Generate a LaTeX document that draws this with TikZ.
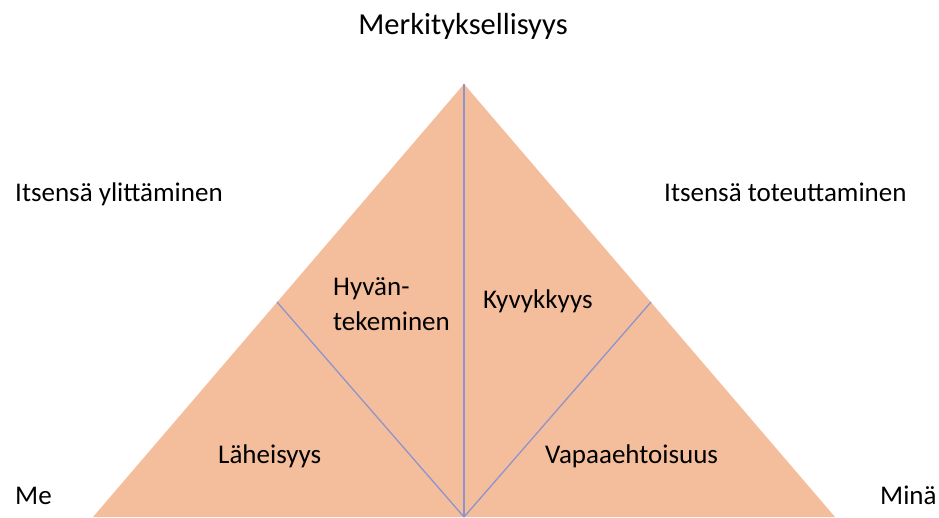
\documentclass[tikz,border=0pt]{standalone}
\usepackage{fontspec}
\setmainfont{Carlito}
\definecolor{pyramid}{HTML}{F4BE9C}
\definecolor{divider}{HTML}{8E94CB}
\tikzset{
  label text/.style={font=\fontsize{27}{35}\selectfont, inner sep=0pt},
  title text/.style={font=\fontsize{30.5}{36}\selectfont, inner sep=0pt},
  divider line/.style={draw=divider, line width=1.3pt}
}
\begin{document}
\begin{tikzpicture}[x=1pt, y=-1pt]
    \useasboundingbox (0,0) rectangle (939,517);

    \coordinate (apex) at (464,84);
    \coordinate (bl) at (93,517);
    \coordinate (br) at (835,517);
    \coordinate (bm) at (464,517);
    \coordinate (lside) at (277,302);
    \coordinate (rside) at (651,302);

    \fill[pyramid] (bl) -- (apex) -- (br) -- cycle;

    \draw[divider line] (apex) -- (bm);
    \draw[divider line] (lside) -- (bm);
    \draw[divider line] (rside) -- (bm);

    \node[title text, anchor=base] (top) at (463,34) {Merkityksellisyys};
    \node[label text, anchor=base west] (beyond) at (15,201) {Itsensä ylittäminen};
    \node[label text, anchor=base west] (self) at (664,201) {Itsensä toteuttaminen};

    \node[label text, anchor=west, align=left] (good) at (333,304) {Hyvän-\\tekeminen};
    \node[label text, anchor=base west] (skill) at (483,308) {Kyvykkyys};
    \node[label text, anchor=base west] (close) at (218,463) {Läheisyys};
    \node[label text, anchor=base west] (free) at (545,463) {Vapaaehtoisuus};

    \node[label text, anchor=base west] (we) at (15,504) {Me};
    \node[label text, anchor=base west] (me) at (880,504) {Minä};
\end{tikzpicture}
\end{document}
